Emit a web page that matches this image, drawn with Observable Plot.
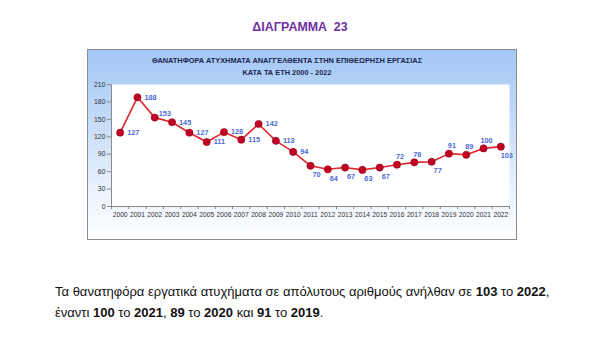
<!DOCTYPE html>
<html>
<head>
<meta charset="utf-8">
<script src="https://cdn.jsdelivr.net/npm/d3@7"></script>
<script src="https://cdn.jsdelivr.net/npm/@observablehq/plot@0.6"></script>
<style>
  html, body { margin: 0; padding: 0; background: #fff; }
  #page { position: relative; width: 600px; height: 348px; overflow: hidden; font-family: "Liberation Sans", Arial, sans-serif; }
  .abs { position: absolute; white-space: nowrap; }
  #heading { left: 0; width: 600px; top: 19px; text-align: center; font-size: 12.4px; font-weight: bold; color: #7030a0; line-height: 16px; }
  #frame { left: 87px; top: 49px; width: 430px; height: 191px; box-sizing: border-box; border: 1px solid #8c8c8c;
           background: linear-gradient(to bottom, #a3c7f5 0%, #c2daf8 35%, #e6f0fc 70%, #ffffff 100%); }
  #chartTitle { left: 87px; width: 400px; top: 55px; text-align: center; font-size: 7.4px; font-weight: bold; color: #1b2550; line-height: 11.6px; }
  #plotHolder { left: 87px; top: 49px; }
  .para { left: 55px; font-size: 13px; color: #111; line-height: 16px; }
</style>
</head>
<body>
<div id="page">
  <div id="heading" class="abs">ΔΙΑΓΡΑΜΜΑ&nbsp;&nbsp;23</div>
  <div id="frame" class="abs"></div>
  <div id="chartTitle" class="abs">ΘΑΝΑΤΗΦΟΡΑ ΑΤΥΧΗΜΑΤΑ ΑΝΑΓΓΕΛΘΕΝΤΑ ΣΤΗΝ ΕΠΙΘΕΩΡΗΣΗ ΕΡΓΑΣΙΑΣ<br>ΚΑΤΑ ΤΑ ΕΤΗ 2000 - 2022</div>
  <div id="plotHolder" class="abs"></div>
  <div class="abs para" style="top:284px">Τα θανατηφόρα εργατικά ατυχήματα σε απόλυτους αριθμούς ανήλθαν σε <b>103</b> το <b>2022</b>,</div>
  <div class="abs para" style="top:305px">έναντι <b>100</b> το <b>2021</b>, <b>89</b> το <b>2020</b> και <b>91</b> το <b>2019</b>.</div>
</div>
<script>
// ---- data ----
const years = [2000, 2001, 2002, 2003, 2004, 2005, 2006, 2007, 2008, 2009, 2010, 2011,
               2012, 2013, 2014, 2015, 2016, 2017, 2018, 2019, 2020, 2021, 2022];
const deaths = [127, 188, 153, 145, 127, 111, 128, 115, 142, 113, 94, 70,
                64, 67, 63, 67, 72, 76, 77, 91, 89, 100, 103];
const yTicks = [0, 30, 60, 90, 120, 150, 180, 210];

const data = years.map((year, i) => ({year, value: deaths[i]}));

// label placement groups (as in the reference)
const labelsAbove = new Set([2016, 2017, 2019, 2020, 2021]);
const labelsBelow = new Set([2011, 2012, 2013, 2014, 2015, 2018, 2022]);
const labelsUpRight = new Set([2002]);
const right = data.filter(d => !labelsAbove.has(d.year) && !labelsBelow.has(d.year) && !labelsUpRight.has(d.year));
const upRight = data.filter(d => labelsUpRight.has(d.year));
const above = data.filter(d => labelsAbove.has(d.year));
const below = data.filter(d => labelsBelow.has(d.year));

const labelStyle = {x: "year", y: "value", text: d => String(d.value), fill: "#4a6ad6", fontWeight: "bold", fontSize: 7.3};

const chart = Plot.plot({
  width: 430,
  height: 191,
  marginLeft: 24,
  marginRight: 8,
  marginTop: 35,
  marginBottom: 34,
  style: {background: "transparent", fontFamily: "Liberation Sans, Arial, sans-serif", fontSize: "6.8px", color: "#333"},
  x: {type: "linear", domain: [years[0] - 0.5, years[years.length - 1] + 0.5]},
  y: {domain: [0, 210]},
  marks: [
    Plot.frame({fill: "white", stroke: "none"}),
    Plot.axisY({ticks: yTicks, tickSize: 4, tickPadding: 2, stroke: "#888", fill: "#333", fontSize: 6.9, label: null}),
    Plot.axisX({ticks: d3.range(years[0] - 0.5, years[years.length - 1] + 1, 1), tickSize: 3, tickFormat: () => "", stroke: "#888", label: null}),
    Plot.axisX({ticks: years, tickSize: 0, tickPadding: 6, tickFormat: d => String(d), fill: "#333", fontSize: 6.7, label: null}),
    Plot.ruleY([0], {stroke: "#8a8a8a"}),
    Plot.ruleX([years[0] - 0.5], {stroke: "#8a8a8a"}),
    Plot.line(data, {x: "year", y: "value", stroke: "#e0262c", strokeWidth: 1.6}),
    Plot.dot(data, {x: "year", y: "value", r: 3.6, fill: "#c10022", stroke: "#8e0019", strokeWidth: 0.6}),
    Plot.text(right, {...labelStyle, textAnchor: "start", dx: 7, dy: 0}),
    Plot.text(upRight, {...labelStyle, textAnchor: "start", dx: 4, dy: -4}),
    Plot.text(above, {...labelStyle, textAnchor: "middle", dx: 3, dy: -8}),
    Plot.text(below, {...labelStyle, textAnchor: "middle", dx: 6, dy: 9})
  ]
});
document.getElementById("plotHolder").appendChild(chart);
</script>
</body>
</html>
